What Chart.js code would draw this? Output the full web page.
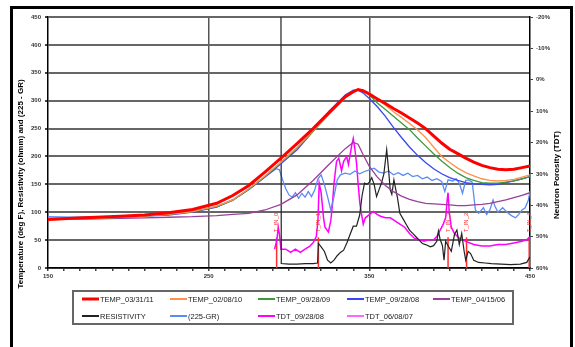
<!DOCTYPE html>
<html lang="en">
<head>
  <meta charset="UTF-8">
  <title>Temperature, resistivity and TDT log</title>
  <script src="https://cdn.jsdelivr.net/npm/chart.js"></script>
  <style>
    body { margin: 0; padding: 0; background: #fff; }
    .wrap { width: 575px; height: 347px; position: relative; }
  </style>
</head>
<body>
  <div class="wrap"><canvas id="logChart"></canvas></div>

  <script>
    // depth axis shared by the temperature surveys
    const tempDepth = [150,165,180,195,210,225,240,255,265,275,285,295,305,315,325,335,340,343,346,350,355,360,365,370,375,380,385,390,395,400,405,410,415,420,425,430,435,440,445,450];
    const temp033111 = [87,89,91,93,95,99,105,116,130,148,172,197,223,250,279,307,316,320,318,312,303,295,286,278,269,260,250,237,224,213,205,197,190,184,180,177,176,177,180,183];
    const temp020810 = [86,88,89,91,93,96,101,111,122,142,165,190,216,246,276,305,315,319,319,314,302,292,280,270,259,248,234,217,200,189,179,171,165,160,157,156,157,159,163,167];
    const temp092809 = [87,88,89,91,93,96,101,110,121,141,164,189,215,245,276,306,316,320,318,310,296,284,272,260,248,233,219,205,192,180,170,162,157,153,152,152,154,156,160,164];
    const temp092808 = [89,89,90,91,93,95,100,109,122,141,163,187,212,245,281,310,319,319,314,304,289,272,252,234,217,202,189,178,169,162,157,153,151,150,149,150,153,156,160,164];
    const temp041506 = [87,87,88,89,90,91,92,94,96,98,104,114,131,157,186,214,225,222,204,182,163,148,137,129,123,119,116,115,114,113,112,112,113,114,116,119,122,126,130,135];

    const resDepth = [295,295.2,300,305,310,315,317.8,318.3,320,322,324,326,328,330,332,334,336,338,340,342,344,345.5,347,348.5,350,351.5,353,354.5,356,357.5,359,360.8,362,363,364,365.3,366.5,367.5,369,371,373,375,377,379,381,383,385,388,390,392,393,394,395.5,396.5,397.5,399,401,403,404.5,406,407.5,409,410,411.5,413,415,418,422,426,432,438,444,448,450];
    const resistivity = [450,8,7,7,8,8,9,44,38,30,14,9,14,22,28,32,45,60,75,75,95,130,152,150,154,162,150,128,140,152,168,212,175,140,132,158,140,126,98,88,78,68,62,56,50,44,42,38,40,48,66,52,40,14,48,40,30,60,68,42,62,30,14,30,26,14,10,9,8,7,6,7,10,20];

    const grDepth = [150,165,180,195,210,225,240,255,265,275,285,292,294,296,298,300,302,304,306,308,310,312,314,316,318,320,322,324,326,328,330,332,335,338,341,344,347,350,353,356,359,362,365,368,371,374,377,380,383,386,389,392,395,397,399,402,404,406,408,410,412,414,415,416,418,421,423,425,427,428,430,433,435,437,439,441,443,445,447,449,450];
    const gr225 = [92,91,92,92,94,96,101,110,122,141,163,178,176,158,142,131,127,135,125,134,127,137,128,140,160,167,150,128,104,128,158,167,170,168,174,169,173,176,179,172,170,174,167,171,166,170,164,166,160,163,157,160,155,137,158,156,160,152,134,157,158,154,130,104,98,108,96,104,122,112,100,108,102,97,93,90,96,104,108,122,138];

    const tdtDepth = [291,292,292.7,293.3,294,295,298,301,304,307,310,313,315,317,318,318.8,320,321.5,322.4,324.5,326,327,328,329.6,331,332.7,334,335.9,337,338,339,340,341,342.1,343,344.1,345.2,346.2,347.5,350,352.5,355,357,360,363,366,369,372,375,378,381,384,387,390,392,394,396,397.5,398.5,399,399.7,401,403,406,410,415,420,425,430,435,440,445,448,450];
    const tdt092808 = [54,52,50,47,49,54,54,55,54,55,54,53,52,50,45,33,36,44,47,48.5,45,40,33,26,25,29,26,24.5,27,24,21,18.7,22,27,33,39.4,43,46,44,43,42,43,43.5,44,44,45,46,47,49,50.5,51,51.5,51,51,50,48,46,44,38,36,42,47,49,50.5,51.5,52.5,53,53,52.5,52.5,52,51.5,51,50];
    const tdt060807 = [];

    // tool / marker depths along the bottom
    const markerDepth = [292.3, 318.3, 399, 410.5, 449.5];
    const markerLabels = ['T_IN_0', 'T_IN_1', 'T_IN_3', 'T_IN_2', 'T_IN_4'];
    const markerTop = 55;

    const xLabels = [150, 250, 350, 450];
    const xGridAt = [250, 350];

    const FONT = "'Liberation Sans', Arial, sans-serif";
    const pts = (xs, ys) => xs.map((x, i) => ({ x: x, y: ys[i] }));

    const series = [
      { label: 'TEMP_03/31/11', xs: tempDepth, ys: temp033111, color: '#ff0000', width: 3, axis: 'y' },
      { label: 'TEMP_02/08/10', xs: tempDepth, ys: temp020810, color: '#ff914d', width: 1.3, axis: 'y' },
      { label: 'TEMP_09/28/09', xs: tempDepth, ys: temp092809, color: '#3c9a3c', width: 1.3, axis: 'y' },
      { label: 'TEMP_09/28/08', xs: tempDepth, ys: temp092808, color: '#3a46f0', width: 1.3, axis: 'y' },
      { label: 'TEMP_04/15/06', xs: tempDepth, ys: temp041506, color: '#9a3f9a', width: 1.3, axis: 'y' },
      { label: 'RESISTIVITY', xs: resDepth, ys: resistivity, color: '#222222', width: 1.2, axis: 'y' },
      { label: '(225-GR)', xs: grDepth, ys: gr225, color: '#5b8cf5', width: 1.3, axis: 'y' },
      { label: 'TDT_09/28/08', xs: tdtDepth, ys: tdt092808, color: '#ff00ff', width: 1.5, axis: 'y2' },
      { label: 'TDT_06/08/07', xs: [], ys: tdt060807, color: '#ff66ff', width: 1.5, axis: 'y2' }
    ];

    const datasets = series.map(s => ({
      label: s.label,
      data: pts(s.xs, s.ys),
      borderColor: s.color,
      backgroundColor: s.color,
      borderWidth: s.width,
      pointRadius: 0,
      tension: 0,
      yAxisID: s.axis
    }));

    markerDepth.forEach(d => {
      datasets.push({
        label: '',
        data: [{ x: d, y: 0 }, { x: d, y: markerTop }],
        borderColor: '#ff3030',
        borderWidth: 1.5,
        pointRadius: 0,
        yAxisID: 'y'
      });
    });

    const decor = {
      id: 'decor',
      beforeDraw(chart) {
        const c = chart.ctx;
        c.save();
        c.fillStyle = '#fff';
        c.fillRect(0, 0, chart.width, chart.height);
        c.restore();
      },
      afterDatasetsDraw(chart) {
        const c = chart.ctx;
        c.save();
        c.fillStyle = '#ff3030';
        c.font = '6px ' + FONT;
        c.textAlign = 'left';
        c.textBaseline = 'middle';
        markerDepth.forEach((d, i) => {
          const x = chart.scales.x.getPixelForValue(d);
          const y = chart.scales.y.getPixelForValue(markerTop) - 5;
          c.save();
          c.translate(x, y);
          c.rotate(-Math.PI / 2);
          c.fillText(markerLabels[i], 0, 0);
          c.restore();
        });
        c.restore();
      },
      afterDraw(chart) {
        const c = chart.ctx;
        c.save();
        // outer frame
        c.strokeStyle = '#000';
        c.lineWidth = 3;
        c.strokeRect(11.5, 7.5, 560, 400);

        // axis titles
        c.fillStyle = '#000';
        c.font = 'bold 8px ' + FONT;
        c.textAlign = 'center';
        c.textBaseline = 'middle';
        c.save();
        c.translate(21, 184);
        c.rotate(-Math.PI / 2);
        c.fillText('Temperature (deg F), Resistivity (ohmm) and (225 - GR)', 0, 0);
        c.restore();
        c.save();
        c.translate(557, 175);
        c.rotate(-Math.PI / 2);
        c.fillText('Neutron Porosity (TDT)', 0, 0);
        c.restore();

        // legend
        c.strokeStyle = '#666';
        c.lineWidth = 2;
        c.fillStyle = '#fff';
        c.fillRect(73, 291, 440, 33);
        c.strokeRect(73, 291, 440, 33);
        const cols = [82, 170, 258, 347, 433];
        const rows = [299, 316];
        c.font = '7.5px ' + FONT;
        c.textAlign = 'left';
        series.forEach((s, i) => {
          const x = cols[i % 5];
          const y = rows[Math.floor(i / 5)];
          c.strokeStyle = s.color;
          c.lineWidth = s.width > 2 ? 3 : 2;
          c.beginPath();
          c.moveTo(x, y);
          c.lineTo(x + 17, y);
          c.stroke();
          c.fillStyle = '#222';
          c.fillText(s.label, x + 18, y + 0.5);
        });
        c.restore();
      }
    };

    const tickFont = { family: FONT, size: 6, weight: 'bold' };

    new Chart(document.getElementById('logChart'), {
      type: 'line',
      data: { datasets: datasets },
      options: {
        responsive: true,
        maintainAspectRatio: false,
        animation: false,
        layout: { padding: { top: 17, left: 0, right: 0, bottom: 0 } },
        plugins: {
          legend: { display: false },
          tooltip: { enabled: false }
        },
        scales: {
          x: {
            type: 'linear',
            min: 150,
            max: 450,
            ticks: {
              stepSize: 10,
              autoSkip: false,
              maxRotation: 0,
              padding: 2,
              color: '#333',
              font: tickFont,
              callback: v => xLabels.includes(Math.round(v)) ? String(Math.round(v)) : ''
            },
            grid: {
              color: c => xGridAt.includes(Math.round(c.tick.value)) ? '#555' : 'rgba(0,0,0,0)',
              lineWidth: 1.5,
              tickColor: '#444',
              tickLength: 3
            },
            border: { color: '#000', width: 1.5 },
            afterFit: s => { s.height = 79; }
          },
          y: {
            min: 0,
            max: 450,
            ticks: { stepSize: 50, padding: 4, color: '#333', font: tickFont },
            grid: { color: '#666', lineWidth: 2, tickColor: '#444', tickLength: 3 },
            border: { color: '#000', width: 1.5 },
            afterFit: s => { s.width = 48; }
          },
          y2: {
            position: 'right',
            min: -20,
            max: 60,
            reverse: true,
            ticks: { stepSize: 10, padding: 3, color: '#333', font: tickFont, callback: v => v + '%' },
            grid: { drawOnChartArea: false, tickColor: '#444', tickLength: 3 },
            border: { color: '#000', width: 1.5 },
            afterFit: s => { s.width = 45; }
          }
        }
      },
      plugins: [decor]
    });
  </script>
</body>
</html>
